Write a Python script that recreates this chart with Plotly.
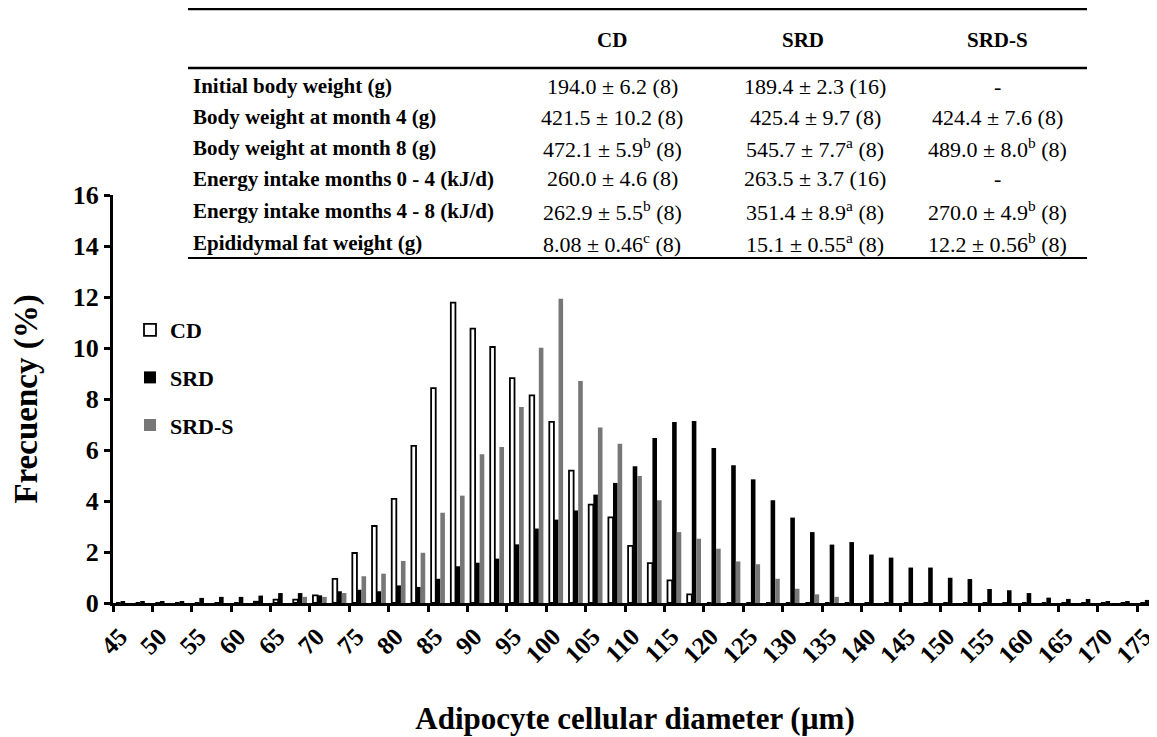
import plotly.graph_objects as go

# ---------------- data ----------------
diameters = [45, 47.5, 50, 52.5, 55, 57.5, 60, 62.5, 65, 67.5, 70, 72.5, 75, 77.5, 80, 82.5,
             85, 87.5, 90, 92.5, 95, 97.5, 100, 102.5, 105, 107.5, 110, 112.5, 115, 117.5,
             120, 122.5, 125, 127.5, 130, 132.5, 135, 137.5, 140, 142.5, 145, 147.5, 150,
             152.5, 155, 157.5, 160, 162.5, 165, 167.5, 170, 172.5, 175]

cd = [0, 0, 0, 0, 0, 0, 0, 0.05, 0.13, 0.13, 0.30, 0.95, 1.96, 3.02, 4.08, 6.16,
      8.43, 11.78, 10.76, 10.04, 8.82, 8.14, 7.10, 5.19, 3.86, 3.36, 2.24, 1.56, 0.89, 0.34,
      0, 0, 0, 0, 0, 0, 0, 0, 0, 0, 0, 0, 0, 0, 0, 0, 0, 0, 0, 0, 0, 0, 0]

srd = [0.07, 0.07, 0.07, 0.07, 0.20, 0.24, 0.24, 0.29, 0.39, 0.39, 0.30, 0.46, 0.52, 0.46,
       0.69, 0.63, 0.95, 1.44, 1.58, 1.74, 2.30, 2.92, 3.27, 3.63, 4.25, 4.71, 5.36, 6.47,
       7.10, 7.14, 6.08, 5.40, 4.85, 4.03, 3.35, 2.78, 2.29, 2.39, 1.90, 1.78, 1.39, 1.39,
       0.99, 0.94, 0.55, 0.50, 0.39, 0.21, 0.16, 0.16, 0.07, 0.07, 0.12]

srd_s = [0, 0, 0, 0, 0, 0, 0, 0, 0, 0.24, 0.24, 0.39, 1.05, 1.15, 1.65, 1.97, 3.54, 4.21,
         5.83, 6.12, 7.69, 10.01, 11.93, 8.71, 6.88, 6.25, 4.98, 4.03, 2.78, 2.52, 2.13,
         1.63, 1.52, 0.95, 0.56, 0.34, 0.24, 0, 0, 0, 0, 0, 0, 0, 0, 0, 0, 0, 0, 0, 0, 0, 0]

tick_labels = ["45", "50", "55", "60", "65", "70", "75", "80", "85", "90", "95", "100",
               "105", "110", "115", "120", "125", "130", "135", "140", "145", "150", "155",
               "160", "165", "170", "175"]
y_ticks = [0, 2, 4, 6, 8, 10, 12, 14, 16]
series_names = ["CD", "SRD", "SRD-S"]

table_header = ["CD", "SRD", "SRD-S"]
row_labels = ["Initial body weight (g)", "Body weight at month 4 (g)",
              "Body weight at month 8 (g)", "Energy intake months 0 - 4 (kJ/d)",
              "Energy intake months 4 - 8 (kJ/d)", "Epididymal fat weight (g)"]
cd_vals = ["194.0 ± 6.2 (8)", "421.5 ± 10.2 (8)", "472.1 ± 5.9<sup>b</sup> (8)",
           "260.0 ± 4.6 (8)", "262.9 ± 5.5<sup>b</sup> (8)", "8.08 ± 0.46<sup>c</sup> (8)"]
srd_vals = ["189.4 ± 2.3 (16)", "425.4 ± 9.7 (8)", "545.7 ± 7.7<sup>a</sup> (8)",
            "263.5 ± 3.7 (16)", "351.4 ± 8.9<sup>a</sup> (8)", "15.1 ± 0.55<sup>a</sup> (8)"]
srds_vals = ["-", "424.4 ± 7.6 (8)", "489.0 ± 8.0<sup>b</sup> (8)", "-",
             "270.0 ± 4.9<sup>b</sup> (8)", "12.2 ± 0.56<sup>b</sup> (8)"]

# ---------------- figure ----------------
FONT = "Liberation Serif"
OFF = 8                      # page body margin
W, H = 1157 - OFF, 737 - OFF
ML, MR, MT, MB = 113 - OFF, 0, 195 - OFF, 134
PW, PH = W - ML - MR, H - MT - MB


def px_x(px):
    return (px - OFF - ML) / PW


def px_y(py):
    return (H - MB - (py - OFF)) / PH


def b(t):
    return "<b>" + str(t) + "</b>"


fig = go.Figure()
fig.add_trace(go.Bar(x=diameters, y=cd, name=b(series_names[0]), legendgroup="a",
                     marker=dict(color="white", line=dict(color="black", width=1.8))))
fig.add_trace(go.Bar(x=diameters, y=srd, name=b(series_names[1]), legendgroup="b",
                     marker=dict(color="black", line=dict(color="black", width=0))))
fig.add_trace(go.Bar(x=diameters, y=srd_s, name=b(series_names[2]), legendgroup="c",
                     marker=dict(color="#777777", line=dict(color="#777777", width=0))))

step = diameters[1] - diameters[0]
tickvals = [float(t) - step / 2 for t in tick_labels]

fig.update_layout(
    width=W, height=H,
    margin=dict(l=ML, r=MR, t=MT, b=MB, autoexpand=False),
    paper_bgcolor="white", plot_bgcolor="white",
    barmode="group", bargap=0.3, bargroupgap=0,
    font=dict(family=FONT, color="black"),
    showlegend=True,
    legend=dict(x=px_x(130), y=px_y(309), xanchor="left", yanchor="top",
                font=dict(family=FONT, size=22, color="black"),
                bgcolor="rgba(0,0,0,0)", traceorder="grouped", tracegroupgap=16,
                itemwidth=30),
    xaxis=dict(range=[diameters[0] - step / 2, diameters[-1] + step / 2],
               tickmode="array", tickvals=tickvals, ticktext=[b(t) for t in tick_labels],
               tickangle=-45, ticklabelshift=7,
               tickfont=dict(family=FONT, size=25, color="black"),
               ticks="outside", ticklen=6, tickwidth=3, tickcolor="black",
               showline=True, linewidth=3, linecolor="black",
               showgrid=False, zeroline=False,
               title=dict(text=b("Adipocyte cellular diameter (µm)"), standoff=40,
                          font=dict(family=FONT, size=31, color="black"))),
    yaxis=dict(range=[0, 16], tickmode="array", tickvals=y_ticks,
               ticktext=[b(v) for v in y_ticks],
               tickfont=dict(family=FONT, size=26, color="black"),
               ticks="outside", ticklen=6, tickwidth=3, tickcolor="black",
               showline=True, linewidth=3, linecolor="black",
               showgrid=False, zeroline=False,
               title=dict(text=b("Frecuency (%)"), standoff=28,
                          font=dict(family=FONT, size=33, color="black"))),
)

# ---------------- embedded table ----------------
tx0, tx1 = px_x(188), px_x(1087)
for py, lw in [(9, 2.5), (68, 2.5), (258, 2)]:
    fig.add_shape(type="line", xref="paper", yref="paper", x0=tx0, x1=tx1,
                  y0=px_y(py), y1=px_y(py), line=dict(color="black", width=lw))

header_x = [612, 803, 997]
value_x = [612, 815, 997]
for hx, txt in zip(header_x, table_header):
    fig.add_annotation(xref="paper", yref="paper", x=px_x(hx), y=px_y(40), text=b(txt),
                       showarrow=False, xanchor="center", yanchor="middle",
                       font=dict(family=FONT, size=21, color="black"))

row_y = [86, 117, 148, 179, 211, 243]
for i, label in enumerate(row_labels):
    fig.add_annotation(xref="paper", yref="paper", x=px_x(191), y=px_y(row_y[i]),
                       text=b(label), showarrow=False, xanchor="left", yanchor="middle",
                       font=dict(family=FONT, size=21, color="black"))
    for vx, col in zip(value_x, [cd_vals, srd_vals, srds_vals]):
        fig.add_annotation(xref="paper", yref="paper", x=px_x(vx), y=px_y(row_y[i]),
                           text=col[i], showarrow=False, xanchor="center", yanchor="middle",
                           font=dict(family=FONT, size=22, color="black"))

fig.write_html("out.html")
